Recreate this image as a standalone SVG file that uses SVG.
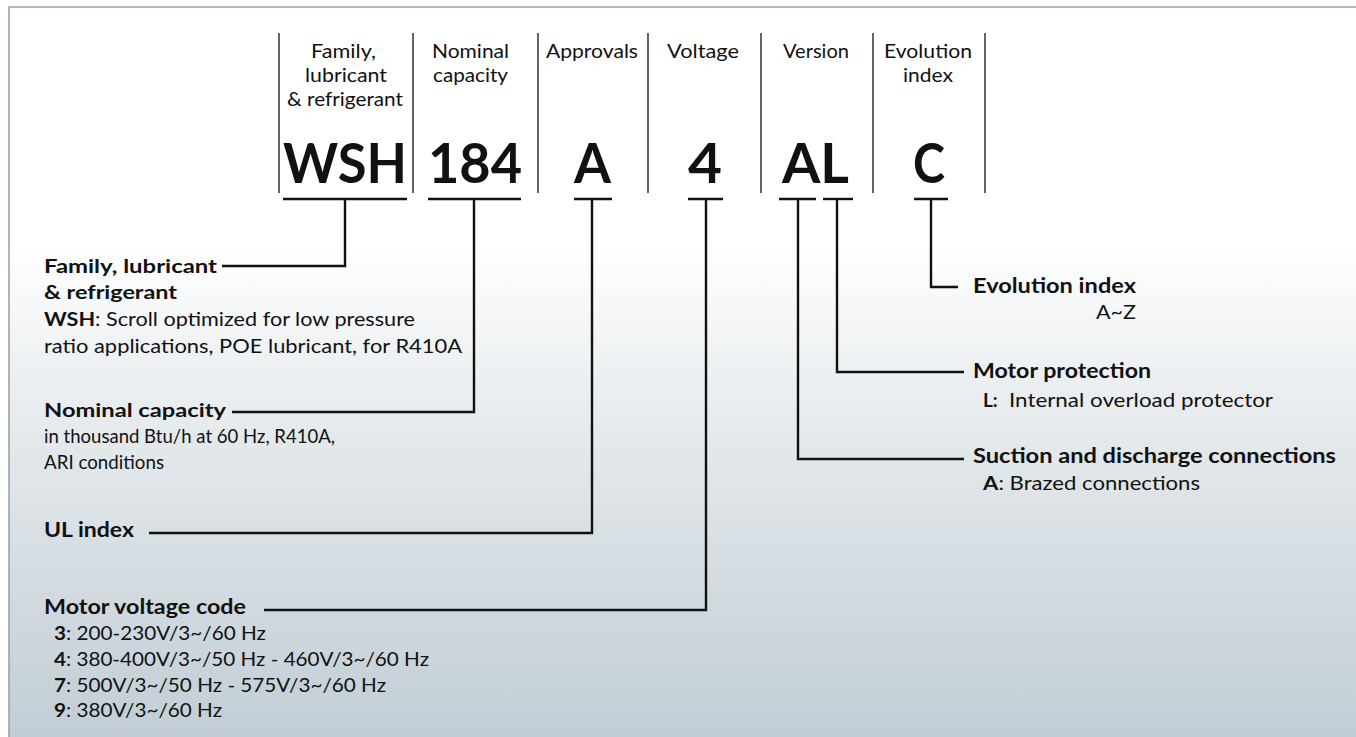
<svg xmlns="http://www.w3.org/2000/svg" width="1356" height="737" viewBox="0 0 1356 737">
<defs>
<linearGradient id="bg" x1="0" y1="0" x2="0" y2="1">
<stop offset="0" stop-color="#ffffff"/>
<stop offset="0.32" stop-color="#ffffff"/>
<stop offset="0.6" stop-color="#e3e8eb"/>
<stop offset="1" stop-color="#c2cdd5"/>
</linearGradient>
<style>
text{font-family:Lato,"Open Sans","Liberation Sans",sans-serif;fill:#111}
.hdr{font-size:20px}
.code{font-size:56px;font-weight:700}
.b{font-size:19px;font-weight:700}
.t{font-size:19px}
.bc{font-size:21px;font-weight:700}
.sep{stroke:#111;stroke-width:1.3}
.con{stroke:#111;stroke-width:2.4;fill:none}
</style>
</defs>
<rect x="0" y="0" width="1356" height="737" fill="#ffffff"/>
<rect x="9" y="7" width="1347" height="730" fill="url(#bg)"/>
<path d="M9,737 V7 H1356" fill="none" stroke="#98a5a8" stroke-width="1.6"/>

<g id="separators">
<line class="sep" x1="279" y1="33" x2="279" y2="193"/>
<line class="sep" x1="413" y1="33" x2="413" y2="193"/>
<line class="sep" x1="538" y1="33" x2="538" y2="193"/>
<line class="sep" x1="648" y1="33" x2="648" y2="193"/>
<line class="sep" x1="761" y1="33" x2="761" y2="193"/>
<line class="sep" x1="873" y1="33" x2="873" y2="193"/>
<line class="sep" x1="985" y1="33" x2="985" y2="193"/>
</g>

<g id="col-family">
<text class="hdr" x="311" y="58" textLength="65" lengthAdjust="spacingAndGlyphs">Family,</text>
<text class="hdr" x="305" y="82" textLength="82" lengthAdjust="spacingAndGlyphs">lubricant</text>
<text class="hdr" x="287" y="106" textLength="116" lengthAdjust="spacingAndGlyphs">&amp; refrigerant</text>
<text class="code" x="283" y="183" textLength="124" lengthAdjust="spacingAndGlyphs">WSH</text>
</g>
<g id="col-capacity">
<text class="hdr" x="432" y="58" textLength="77" lengthAdjust="spacingAndGlyphs">Nominal</text>
<text class="hdr" x="433" y="82" textLength="75" lengthAdjust="spacingAndGlyphs">capacity</text>
<text class="code" x="428" y="183" textLength="94" lengthAdjust="spacingAndGlyphs">184</text>
</g>
<g id="col-approvals">
<text class="hdr" x="546" y="58" textLength="92" lengthAdjust="spacingAndGlyphs">Approvals</text>
<text class="code" x="574" y="183" textLength="37" lengthAdjust="spacingAndGlyphs">A</text>
</g>
<g id="col-voltage">
<text class="hdr" x="667" y="58" textLength="72" lengthAdjust="spacingAndGlyphs">Voltage</text>
<text class="code" x="688" y="183" textLength="34" lengthAdjust="spacingAndGlyphs">4</text>
</g>
<g id="col-version">
<text class="hdr" x="783" y="58" textLength="66" lengthAdjust="spacingAndGlyphs">Version</text>
<text class="code" x="782" y="183" textLength="67" lengthAdjust="spacingAndGlyphs">AL</text>
</g>
<g id="col-evolution">
<text class="hdr" x="884" y="58" textLength="88" lengthAdjust="spacingAndGlyphs">Evolution</text>
<text class="hdr" x="903" y="82" textLength="50" lengthAdjust="spacingAndGlyphs">index</text>
<text class="code" x="913" y="183" textLength="32" lengthAdjust="spacingAndGlyphs">C</text>
</g>

<g id="connectors">
<line class="con" x1="283" y1="199" x2="407" y2="199"/>
<line class="con" x1="428" y1="199" x2="521" y2="199"/>
<line class="con" x1="574" y1="199" x2="612" y2="199"/>
<line class="con" x1="688" y1="199" x2="723" y2="199"/>
<line class="con" x1="779" y1="199" x2="816" y2="199"/>
<line class="con" x1="823" y1="199" x2="853" y2="199"/>
<line class="con" x1="914" y1="199" x2="948" y2="199"/>
<path class="con" d="M345,199 V266 H222"/>
<path class="con" d="M474,199 V412 H232"/>
<path class="con" d="M592,199 V533 H149"/>
<path class="con" d="M706,199 V610 H264"/>
<path class="con" d="M798,199 V459 H964"/>
<path class="con" d="M837,199 V372 H964"/>
<path class="con" d="M931,199 V287 H958"/>
</g>

<g id="label-family">
<text class="b" x="44" y="273" textLength="173" lengthAdjust="spacingAndGlyphs">Family, lubricant</text>
<text class="b" x="44" y="299" textLength="133" lengthAdjust="spacingAndGlyphs">&amp; refrigerant</text>
<text class="t" x="44" y="326" textLength="371" lengthAdjust="spacingAndGlyphs"><tspan font-weight="700">WSH</tspan>: Scroll optimized for low pressure</text>
<text class="t" x="44" y="353" textLength="418" lengthAdjust="spacingAndGlyphs">ratio applications, POE lubricant, for R410A</text>
</g>
<g id="label-capacity">
<text class="b" x="44" y="417" textLength="182" lengthAdjust="spacingAndGlyphs">Nominal capacity</text>
<text class="t" x="44" y="443" textLength="291" lengthAdjust="spacingAndGlyphs">in thousand Btu/h at 60 Hz, R410A,</text>
<text class="t" x="44" y="469" textLength="120" lengthAdjust="spacingAndGlyphs">ARI conditions</text>
</g>
<g id="label-ul">
<text class="bc" x="44" y="537" textLength="90" lengthAdjust="spacingAndGlyphs">UL index</text>
</g>
<g id="label-voltage">
<text class="bc" x="44" y="614" textLength="202" lengthAdjust="spacingAndGlyphs">Motor voltage code</text>
<text class="t" x="54" y="640" textLength="212" lengthAdjust="spacingAndGlyphs"><tspan font-weight="700">3</tspan>: 200-230V/3~/60 Hz</text>
<text class="t" x="54" y="666" textLength="375" lengthAdjust="spacingAndGlyphs"><tspan font-weight="700">4</tspan>: 380-400V/3~/50 Hz - 460V/3~/60 Hz</text>
<text class="t" x="54" y="692" textLength="332" lengthAdjust="spacingAndGlyphs"><tspan font-weight="700">7</tspan>: 500V/3~/50 Hz - 575V/3~/60 Hz</text>
<text class="t" x="54" y="717" textLength="168" lengthAdjust="spacingAndGlyphs"><tspan font-weight="700">9</tspan>: 380V/3~/60 Hz</text>
</g>
<g id="label-evolution">
<text class="bc" x="973" y="293" textLength="163" lengthAdjust="spacingAndGlyphs">Evolution index</text>
<text class="t" x="1096" y="319" textLength="40" lengthAdjust="spacingAndGlyphs">A~Z</text>
</g>
<g id="label-motor-protection">
<text class="bc" x="973" y="378" textLength="178" lengthAdjust="spacingAndGlyphs">Motor protection</text>
<text class="t" x="983" y="407" font-weight="700">L:</text>
<text class="t" x="1009" y="407" textLength="264" lengthAdjust="spacingAndGlyphs">Internal overload protector</text>
</g>
<g id="label-connections">
<text class="bc" x="973" y="463" textLength="363" lengthAdjust="spacingAndGlyphs">Suction and discharge connections</text>
<text class="t" x="983" y="490" textLength="217" lengthAdjust="spacingAndGlyphs"><tspan font-weight="700">A</tspan>: Brazed connections</text>
</g>
</svg>
